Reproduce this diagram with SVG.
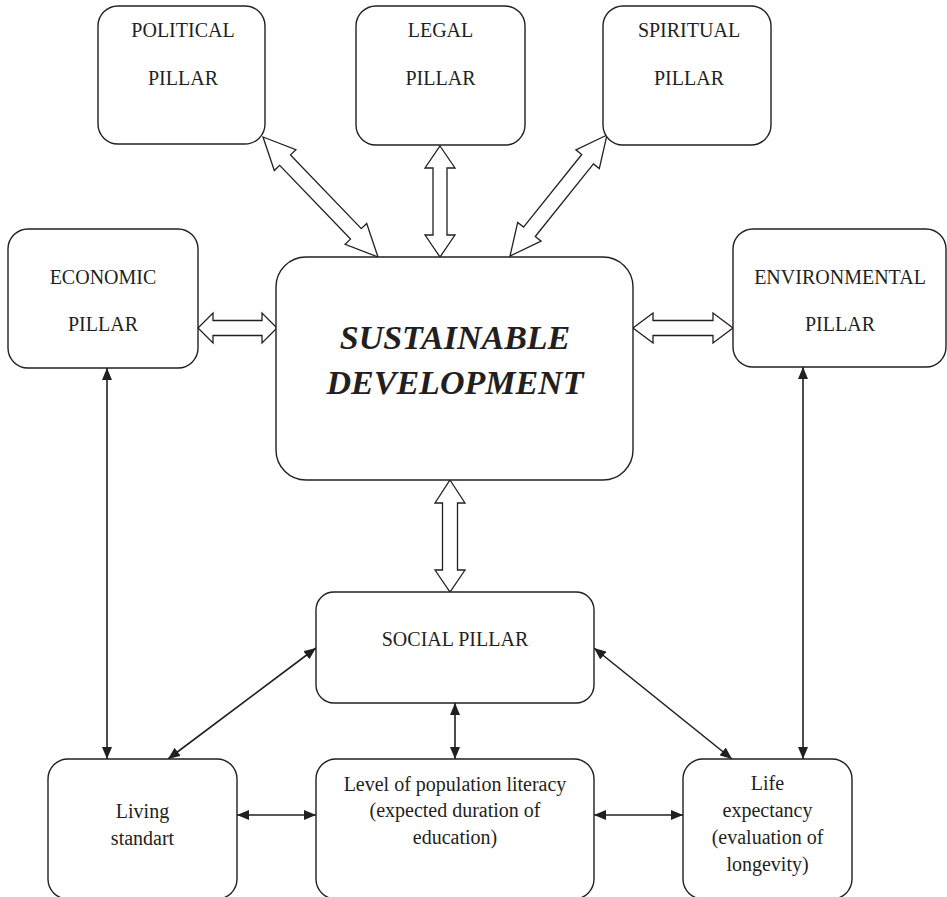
<svg xmlns="http://www.w3.org/2000/svg" width="947" height="897" viewBox="0 0 947 897">
<defs>
<style>
.box{fill:#fff;stroke:#231f20;stroke-width:1.4}
.t{font-family:"Liberation Serif","Times New Roman",serif;font-size:20px;fill:#231f20;text-anchor:middle}
.big{font-family:"Liberation Serif","Times New Roman",serif;font-size:34px;font-weight:bold;font-style:italic;fill:#231f20;text-anchor:middle}
.hollow{fill:#fff;stroke:#231f20;stroke-width:1.3;stroke-linejoin:miter}
.line{fill:none;stroke:#231f20;stroke-width:1.6;marker-start:url(#ah);marker-end:url(#ah)}
</style>
<marker id="ah" viewBox="0 0 12 10" refX="12" refY="5" markerWidth="12" markerHeight="10" markerUnits="userSpaceOnUse" orient="auto-start-reverse">
<path d="M0,0 L12,5 L0,10 z" fill="#231f20"/>
</marker>
</defs>
<rect width="947" height="897" fill="#fff"/>
<g id="connectors">
<polygon class="hollow" points="263,137 274.3,170.5 279.7,165.3 350.5,239.1 345.1,244.3 378,257 366.7,223.5 361.3,228.7 290.5,154.9 295.9,149.7"/>
<polygon class="hollow" points="440,146 455,168 447,168 447,235 455,235 440,257 425,235 433,235 433,168 425,168"/>
<polygon class="hollow" points="607,135 575.9,149.8 581.75,154.5 523.55,227.1 517.7,222.4 510,256 541.1,241.2 535.25,236.5 593.45,163.9 599.3,168.6"/>
<polygon class="hollow" points="198,328 213,313 213,320.5 262,320.5 262,313 277,328 262,343 262,335.5 213,335.5 213,343"/>
<polygon class="hollow" points="633,328 653,313 653,320.5 713,320.5 713,313 733,328 713,343 713,335.5 653,335.5 653,343"/>
<polygon class="hollow" points="450,480 465,503 457.5,503 457.5,570 465,570 450,592 435,570 442.5,570 442.5,503 435,503"/>
<line class="line" x1="107" y1="368" x2="107" y2="759"/>
<line class="line" x1="803" y1="367" x2="803" y2="759"/>
<line class="line" x1="316" y1="648" x2="168" y2="759"/>
<line class="line" x1="594" y1="648" x2="732" y2="759"/>
<line class="line" x1="455" y1="703" x2="455" y2="759"/>
<line class="line" x1="237" y1="815" x2="316" y2="815"/>
<line class="line" x1="594" y1="815" x2="683" y2="815"/>
</g>
<g id="political">
<rect class="box" x="98" y="6" width="167" height="138" rx="20"/>
<text class="t" x="183" y="37">POLITICAL</text>
<text class="t" x="183" y="85">PILLAR</text>
</g>
<g id="legal">
<rect class="box" x="356" y="6" width="169" height="139" rx="20"/>
<text class="t" x="440.5" y="37">LEGAL</text>
<text class="t" x="440.5" y="85">PILLAR</text>
</g>
<g id="spiritual">
<rect class="box" x="603" y="6" width="168" height="139" rx="20"/>
<text class="t" x="689" y="37">SPIRITUAL</text>
<text class="t" x="689" y="85">PILLAR</text>
</g>
<g id="economic">
<rect class="box" x="8" y="229" width="190" height="139" rx="20"/>
<text class="t" x="103" y="284">ECONOMIC</text>
<text class="t" x="103" y="331">PILLAR</text>
</g>
<g id="environmental">
<rect class="box" x="733" y="229" width="213" height="138" rx="20"/>
<text class="t" x="840" y="284">ENVIRONMENTAL</text>
<text class="t" x="840" y="331">PILLAR</text>
</g>
<g id="sustainable">
<rect class="box" x="276" y="257" width="357" height="223" rx="30"/>
<text class="big" x="455" y="349">SUSTAINABLE</text>
<text class="big" x="455" y="394">DEVELOPMENT</text>
</g>
<g id="social">
<rect class="box" x="316" y="592" width="278" height="111" rx="18"/>
<text class="t" x="455" y="646">SOCIAL PILLAR</text>
</g>
<g id="living">
<rect class="box" x="48" y="759" width="189" height="140" rx="20"/>
<text class="t" x="142.5" y="818">Living</text>
<text class="t" x="142.5" y="845">standart</text>
</g>
<g id="literacy">
<rect class="box" x="316" y="759" width="278" height="140" rx="20"/>
<text class="t" x="455" y="791">Level of population literacy</text>
<text class="t" x="455" y="817">(expected duration of</text>
<text class="t" x="455" y="844">education)</text>
</g>
<g id="life">
<rect class="box" x="683" y="759" width="169" height="140" rx="20"/>
<text class="t" x="767.5" y="790">Life</text>
<text class="t" x="767.5" y="817">expectancy</text>
<text class="t" x="767.5" y="844">(evaluation of</text>
<text class="t" x="767.5" y="871">longevity)</text>
</g>
</svg>
